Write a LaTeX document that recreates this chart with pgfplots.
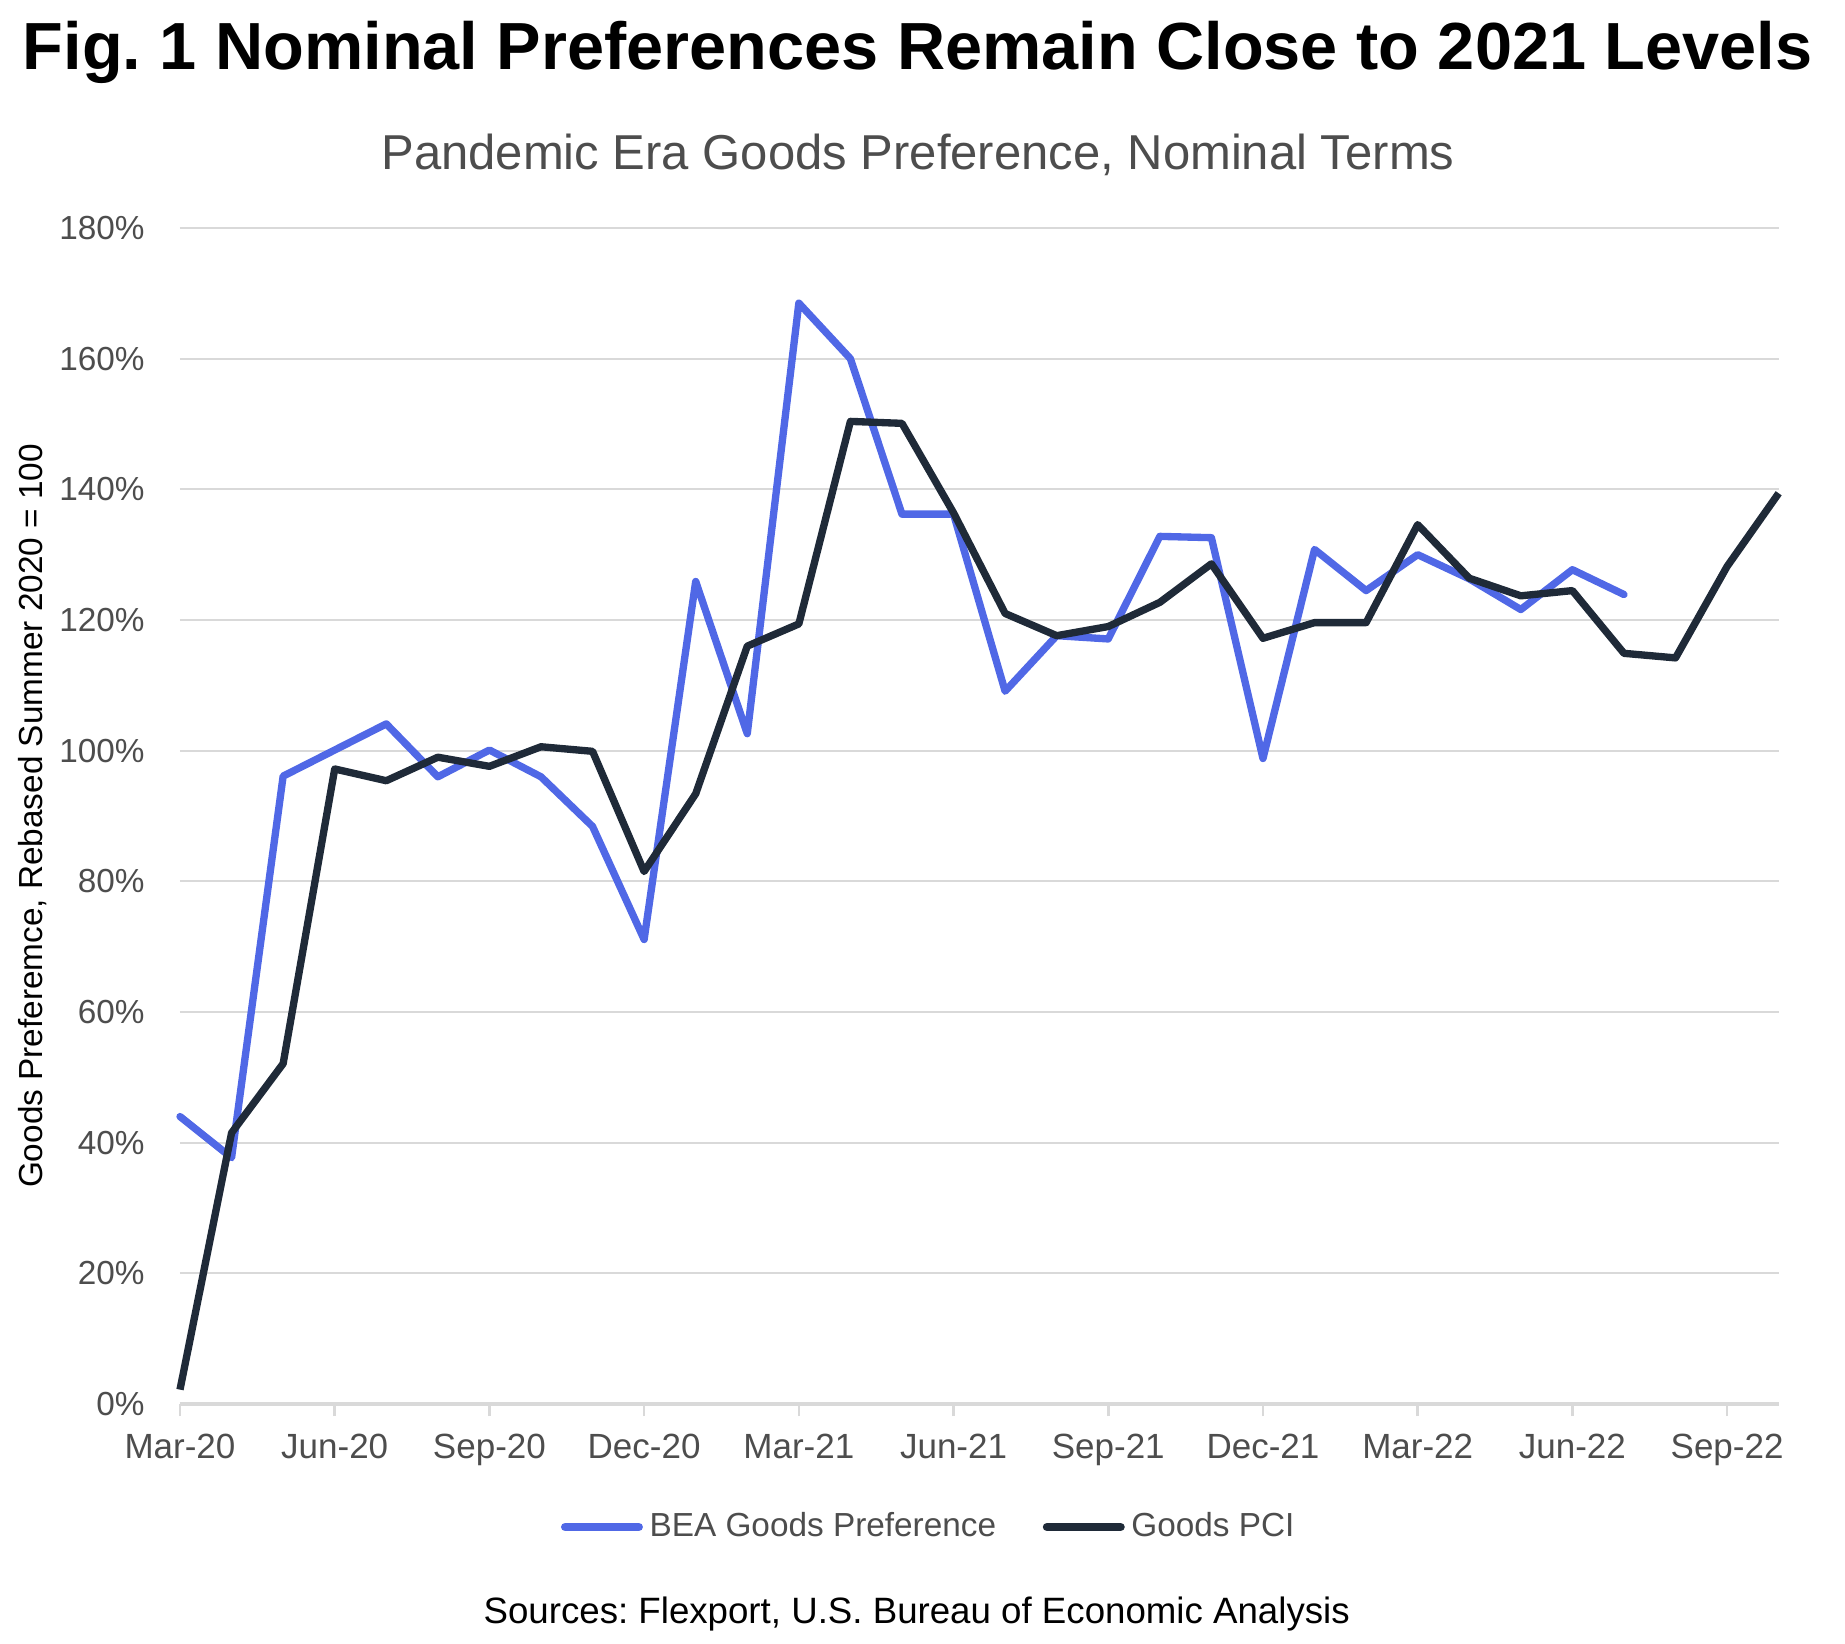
\documentclass[border=0pt]{standalone}
\usepackage{pgfplots}
\pgfplotsset{compat=1.18}
\usepackage{fontspec}
\setmainfont{Liberation Sans}
\frenchspacing
\definecolor{beablue}{HTML}{5068E6}
\definecolor{pcidark}{HTML}{1F2A38}
\definecolor{gridgray}{HTML}{D9D9D9}
\definecolor{ticktext}{HTML}{4D4D4D}
\begin{document}
\begin{tikzpicture}
\begin{axis}[
    scale only axis,
    width=479.6pt,
    height=352.8pt,
    xmin=0, xmax=31,
    ymin=0, ymax=180,
    xtick={0,3,...,30},
    xticklabels={Mar-20,Jun-20,Sep-20,Dec-20,Mar-21,Jun-21,Sep-21,Dec-21,Mar-22,Jun-22,Sep-22},
    ytick={0,20,...,180},
    yticklabels={0\%,20\%,40\%,60\%,80\%,100\%,120\%,140\%,160\%,180\%},
    /pgf/number format/assume math mode=true,
    axis lines*=left,
    y axis line style={draw=none},
    x axis line style={gridgray, line width=1pt},
    ytick style={draw=none},
    xtick style={gridgray, line width=0.8pt},
    tick align=outside,
    major tick length=3.6pt,
    ymajorgrids,
    grid style={gridgray, line width=0.6pt},
    yticklabel style={font=\fontsize{10}{12}\selectfont, text=ticktext, xshift=-3.5pt},
    xticklabel style={font=\fontsize{10.5}{12}\selectfont, text=ticktext, yshift=-2pt},
    ylabel={Goods Preferemce, Rebased Summer 2020 = 100},
    ylabel style={font=\fontsize{11}{13}\selectfont, text=ticktext},
    every axis y label/.style={at={(rel axis cs:0,0.5)}, xshift=-44.3pt, rotate=90, anchor=center},
    legend style={at={(0.4698,-0.1046)}, anchor=center, draw=none, legend columns=2,
        font=\fontsize{10}{12}\selectfont, text=ticktext,
        /tikz/every even column/.append style={column sep=12pt}},
    legend image code/.code={\draw[#1, line width=2.6pt, line cap=round] (0,0) -- (22pt,0);},
    clip=false,
]
\coordinate (ll) at (rel axis cs:0,0);
\coordinate (ur) at (rel axis cs:1,1);

\addplot[beablue, line width=2.2pt, line join=round, line cap=round] coordinates {
(0,44.0) (1,37.7) (2,96.1) (3,100.1) (4,104.1) (5,96.0) (6,100.1) (7,96.0)
(8,88.4) (9,71.1) (10,125.9) (11,102.6) (12,168.5) (13,160.0) (14,136.2) (15,136.2)
(16,109.1) (17,117.6) (18,117.1) (19,132.8) (20,132.6) (21,98.8) (22,130.8) (23,124.5)
(24,130.0) (25,126.3) (26,121.6) (27,127.7) (28,123.9)
};
\addlegendentry{BEA Goods Preference}

\addplot[pcidark, line width=2.2pt, line join=round] coordinates {
(0,2.2) (1,41.5) (2,52.1) (3,97.2) (4,95.4) (5,99.0) (6,97.6) (7,100.6)
(8,99.9) (9,81.5) (10,93.4) (11,116.0) (12,119.4) (13,150.4) (14,150.1) (15,136.4)
(16,121.0) (17,117.6) (18,119.0) (19,122.7) (20,128.6) (21,117.2) (22,119.6) (23,119.6)
(24,134.6) (25,126.4) (26,123.7) (27,124.5) (28,114.9) (29,114.2) (30,128.2) (31,139.4)
};
\addlegendentry{Goods PCI}
\end{axis}
\pgfresetboundingbox
\path[use as bounding box] ([shift={(-54pt,-71.7pt)}]ll) rectangle ([shift={(19.9pt,68.4pt)}]ur);
\node[font=\bfseries\fontsize{20}{24}\selectfont, anchor=center] at ([shift={(221.3pt,405.6pt)}]ll) {Fig. 1 Nominal Preferences Remain Close to 2021 Levels};
\node[font=\fontsize{14.7}{17}\selectfont, text=ticktext, anchor=center] at ([shift={(221.4pt,374.7pt)}]ll) {Pandemic Era Goods Preference, Nominal Terms};
\node[font=\fontsize{11}{13}\selectfont, anchor=center] at ([shift={(221pt,-63pt)}]ll) {Sources: Flexport, U.S. Bureau of Economic Analysis};
\end{tikzpicture}
\end{document}
